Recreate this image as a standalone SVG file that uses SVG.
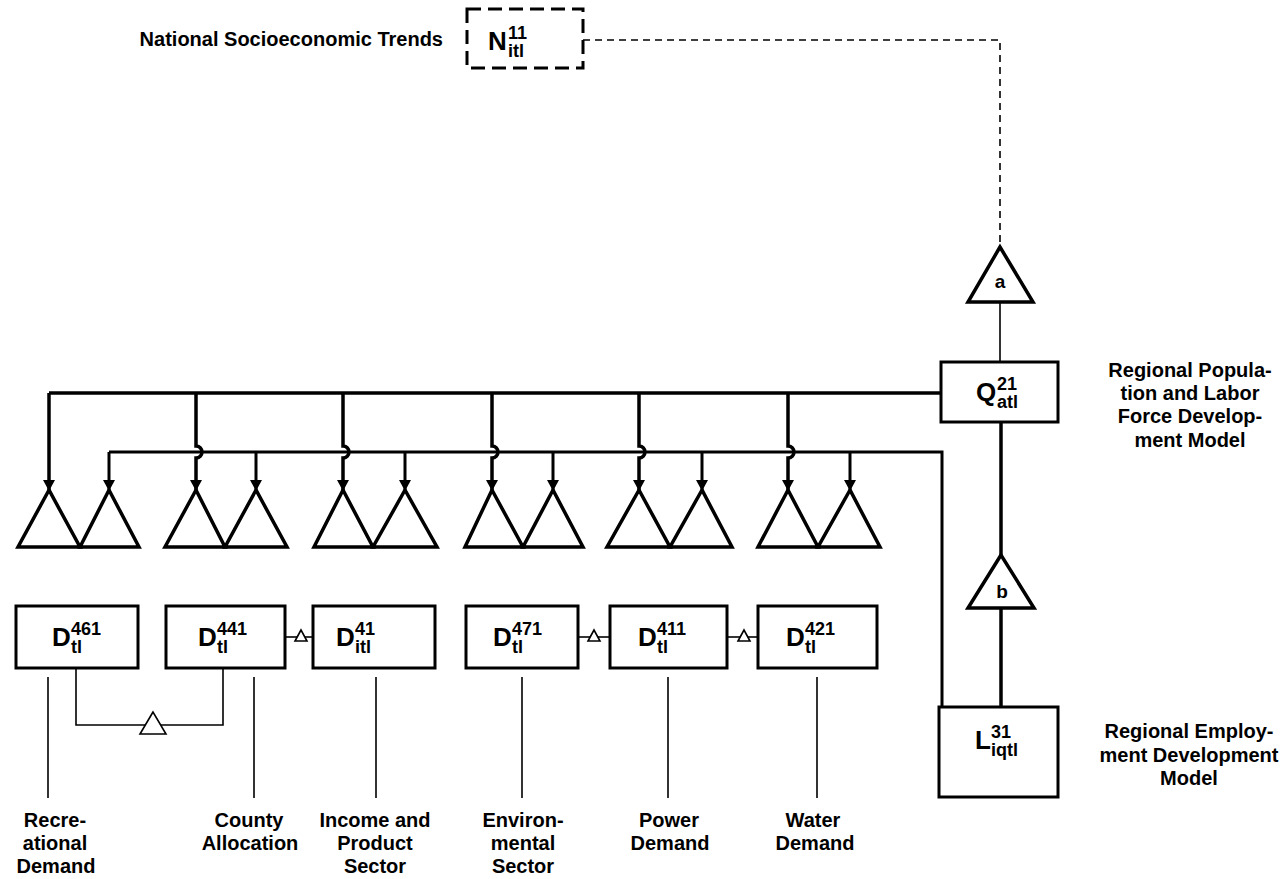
<svg xmlns="http://www.w3.org/2000/svg" width="1285" height="879" viewBox="0 0 1285 879">
<style>
text{font-family:"Liberation Sans",Arial,sans-serif;font-weight:bold;fill:#000}
.lbl{font-size:20px;text-anchor:middle}
.m{font-size:26px}
.s{font-size:18px}
.box{fill:#fff;stroke:#000;stroke-width:3}
.tri{fill:#fff;stroke:#000;stroke-width:3.5;stroke-linejoin:miter}
.stri{fill:#fff;stroke:#000;stroke-width:1.6}
.thick{fill:none;stroke:#000;stroke-width:3.5}
.med{fill:none;stroke:#000;stroke-width:3}
.thin{fill:none;stroke:#000;stroke-width:1.6}
.dash{fill:none;stroke:#000;stroke-width:1.6;stroke-dasharray:7 5}
</style>
<defs>
<marker id="ah" markerUnits="userSpaceOnUse" markerWidth="12" markerHeight="12" refX="10" refY="6" orient="auto">
<path d="M0,0 L11,6 L0,12 z" fill="#000"/>
</marker>
</defs>

<g id="connectors">
<path class="dash" d="M583,40 H1000 V247"/>
<path class="thin" d="M1000,302 V362"/>
<path class="thick" d="M1001,422 V555"/>
<path class="thick" d="M1001,608 V707"/>
<path class="thick" d="M941,393 H49"/>
<path class="thick" marker-end="url(#ah)" d="M49,393 V490"/>
<path class="thick" marker-end="url(#ah)" d="M196,393 V446 A6,6 0 0 1 196,458 V490"/>
<path class="thick" marker-end="url(#ah)" d="M343,393 V446 A6,6 0 0 1 343,458 V490"/>
<path class="thick" marker-end="url(#ah)" d="M492,393 V446 A6,6 0 0 1 492,458 V490"/>
<path class="thick" marker-end="url(#ah)" d="M639,393 V446 A6,6 0 0 1 639,458 V490"/>
<path class="thick" marker-end="url(#ah)" d="M788,393 V446 A6,6 0 0 1 788,458 V490"/>
<path class="med" d="M942,707 V452 H109"/>
<path class="med" marker-end="url(#ah)" d="M109,452 V490"/>
<path class="med" marker-end="url(#ah)" d="M256,452 V490"/>
<path class="med" marker-end="url(#ah)" d="M405,452 V490"/>
<path class="med" marker-end="url(#ah)" d="M553,452 V490"/>
<path class="med" marker-end="url(#ah)" d="M702,452 V490"/>
<path class="med" marker-end="url(#ah)" d="M850,452 V490"/>
<path class="thin" d="M76,668 V725 H223 V668"/>
<polygon class="stri" points="153,712 140,734 166,734"/>
<path class="thin" d="M285,637 H313"/>
<polygon class="stri" points="301,630 295,641 307,641"/>
<path class="thin" d="M578,637 H610"/>
<polygon class="stri" points="594,630 588,641 600,641"/>
<path class="thin" d="M727,637 H758"/>
<polygon class="stri" points="744,630 738,641 750,641"/>
<path class="thin" d="M48,677 V798 M254,677 V798 M376,677 V798 M522,677 V798 M668,677 V798 M817,677 V798"/>
</g>

<g id="triangles">
<polygon class="tri" points="49,490 18,547 80,547"/>
<polygon class="tri" points="109,490 80,547 139,547"/>
<polygon class="tri" points="196,490 165,547 225,547"/>
<polygon class="tri" points="256,490 225,547 287,547"/>
<polygon class="tri" points="343,490 314,547 373,547"/>
<polygon class="tri" points="405,490 373,547 437,547"/>
<polygon class="tri" points="492,490 465,547 523,547"/>
<polygon class="tri" points="553,490 523,547 583,547"/>
<polygon class="tri" points="639,490 607,547 670,547"/>
<polygon class="tri" points="702,490 670,547 732,547"/>
<polygon class="tri" points="788,490 758,547 818,547"/>
<polygon class="tri" points="850,490 818,547 880,547"/>
</g>

<g id="node-N">
<rect x="467" y="9" width="116" height="59" fill="#fff" stroke="#000" stroke-width="3" stroke-dasharray="14 7"/>
<text class="m" x="488" y="50">N</text><text class="s" x="508" y="39">11</text><text class="s" x="508" y="57">itl</text>
<text class="lbl" x="443" y="46" style="text-anchor:end">National Socioeconomic Trends</text>
</g>

<g id="node-a">
<polygon class="tri" points="1000,247 968,302 1033,302"/>
<text x="1000" y="288" style="font-size:19px;text-anchor:middle">a</text>
</g>

<g id="node-Q">
<rect class="box" x="941" y="362" width="117" height="60"/>
<text class="m" x="976" y="401">Q</text><text class="s" x="997" y="390">21</text><text class="s" x="997" y="408">atl</text>
<text class="lbl" x="1190" y="377">Regional Popula-</text>
<text class="lbl" x="1190" y="400">tion and Labor</text>
<text class="lbl" x="1190" y="423">Force Develop-</text>
<text class="lbl" x="1190" y="447">ment Model</text>
</g>

<g id="node-b">
<polygon class="tri" points="1001,555 968,608 1034,608"/>
<text x="1002" y="598" style="font-size:19px;text-anchor:middle">b</text>
</g>

<g id="node-L">
<rect class="box" x="939" y="707" width="119" height="90"/>
<text class="m" x="975" y="749">L</text><text class="s" x="991" y="738">31</text><text class="s" x="991" y="756">iqtl</text>
<text class="lbl" x="1189" y="738">Regional Employ-</text>
<text class="lbl" x="1189" y="762">ment Development</text>
<text class="lbl" x="1189" y="785">Model</text>
</g>

<g id="node-D461">
<rect class="box" x="16" y="606" width="122" height="62"/>
<text class="m" x="52" y="646">D</text><text class="s" x="71" y="635">461</text><text class="s" x="71" y="653">tl</text>
<text class="lbl" x="55" y="827">Recre-</text>
<text class="lbl" x="55" y="850">ational</text>
<text class="lbl" x="56" y="873">Demand</text>
</g>

<g id="node-D441">
<rect class="box" x="166" y="606" width="119" height="62"/>
<text class="m" x="198" y="646">D</text><text class="s" x="217" y="635">441</text><text class="s" x="217" y="653">tl</text>
<text class="lbl" x="249" y="827">County</text>
<text class="lbl" x="250" y="850">Allocation</text>
</g>

<g id="node-D41">
<rect class="box" x="313" y="606" width="122" height="62"/>
<text class="m" x="336" y="646">D</text><text class="s" x="355" y="635">41</text><text class="s" x="355" y="653">itl</text>
<text class="lbl" x="375" y="827">Income and</text>
<text class="lbl" x="375" y="850">Product</text>
<text class="lbl" x="375" y="873">Sector</text>
</g>

<g id="node-D471">
<rect class="box" x="466" y="606" width="112" height="62"/>
<text class="m" x="493" y="646">D</text><text class="s" x="512" y="635">471</text><text class="s" x="512" y="653">tl</text>
<text class="lbl" x="523" y="827">Environ-</text>
<text class="lbl" x="523" y="850">mental</text>
<text class="lbl" x="523" y="873">Sector</text>
</g>

<g id="node-D411">
<rect class="box" x="610" y="606" width="117" height="62"/>
<text class="m" x="638" y="646">D</text><text class="s" x="657" y="635">411</text><text class="s" x="657" y="653">tl</text>
<text class="lbl" x="669" y="827">Power</text>
<text class="lbl" x="670" y="850">Demand</text>
</g>

<g id="node-D421">
<rect class="box" x="758" y="606" width="119" height="62"/>
<text class="m" x="786" y="646">D</text><text class="s" x="805" y="635">421</text><text class="s" x="805" y="653">tl</text>
<text class="lbl" x="813" y="827">Water</text>
<text class="lbl" x="815" y="850">Demand</text>
</g>
</svg>
